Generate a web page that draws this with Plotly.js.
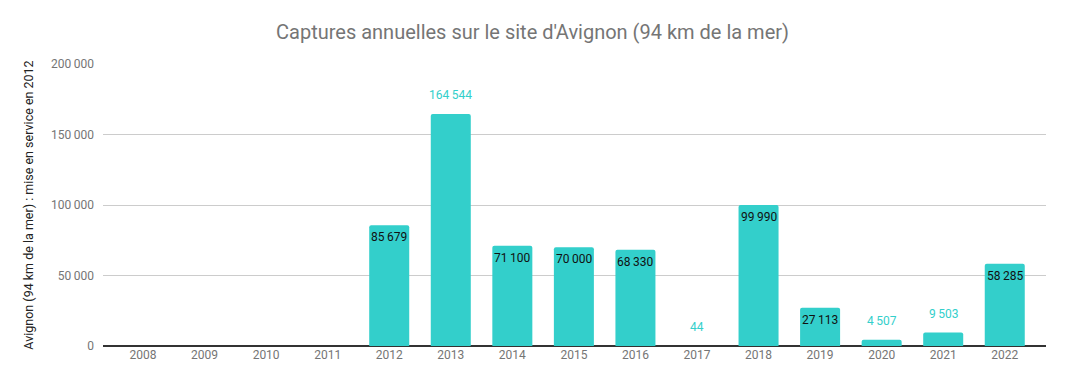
<!DOCTYPE html>
<html>
<head>
<meta charset="utf-8">
<script src="https://cdn.plot.ly/plotly-3.0.1.min.js"></script>
<style>html,body{margin:0;padding:0;background:#fff}#chart{width:1065px;height:386px}</style>
</head>
<body>
<div id="chart"></div>
<script>
const years = ['2008','2009','2010','2011','2012','2013','2014','2015','2016','2017','2018','2019','2020','2021','2022'];
const captures = [null,null,null,null,85679,164544,71100,70000,68330,44,99990,27113,4507,9503,58285];
const yTickVals = [0,50000,100000,150000,200000];
const yTickText = ['0','50\u2009000','100\u2009000','150\u2009000','200\u2009000'];

const teal = '#33cfcb';
function fmt(v){
  return String(v).replace(/\B(?=(\d{3})+(?!\d))/g,'\u2009');
}

const annotations = [];
years.forEach((y,i)=>{
  const v = captures[i];
  if (v === null) return;
  const outside = v < 20000 || v >= 100000;
  annotations.push({
    x: i, y: v, xref:'x', yref:'y',
    text: fmt(v), showarrow:false,
    yanchor:'middle', xanchor:'center',
    yshift: outside ? 19 : -12,
    font:{family:'Roboto, sans-serif', size:12, color: outside ? teal : '#111'}
  });
});

const trace = {
  type:'bar', x: years, y: captures,
  marker:{color: teal, cornerradius: 2},
  hoverinfo:'none'
};

const layout = {
  width:1065, height:386,
  margin:{l:103, r:19, t:64, b:40},
  paper_bgcolor:'#fff', plot_bgcolor:'#fff',
  bargap:0.35,
  showlegend:false,
  font:{family:'Roboto, sans-serif', size:12, color:'#757575'},
  title:{text:"Captures annuelles sur le site d'Avignon (94 km de la mer)",
    x:0.5, xref:'container', y:1-32/386, yref:'container', yanchor:'middle',
    font:{family:'Roboto, sans-serif', size:20, color:'#757575'}},
  xaxis:{type:'category', range:[-0.65,14.67], showgrid:false, zeroline:false,
    showline:false, ticks:'', tickfont:{size:12, color:'#757575'}, fixedrange:true},
  yaxis:{range:[0,200000], tickvals:yTickVals, ticktext:yTickText,
    showgrid:true, gridcolor:'#cccccc', gridwidth:1,
    zeroline:true, zerolinecolor:'#333333', zerolinewidth:1.5,
    showline:false, ticks:'', ticklabelstandoff:8,
    tickfont:{size:12, color:'#757575'},
    title:{text:'Avignon (94 km de la mer) : mise en service en 2012', standoff:14,
      font:{size:12.5, color:'#222222'}}},
  annotations: annotations
};

Plotly.newPlot('chart',[trace],layout,{displayModeBar:false, staticPlot:true});
</script>
</body>
</html>
